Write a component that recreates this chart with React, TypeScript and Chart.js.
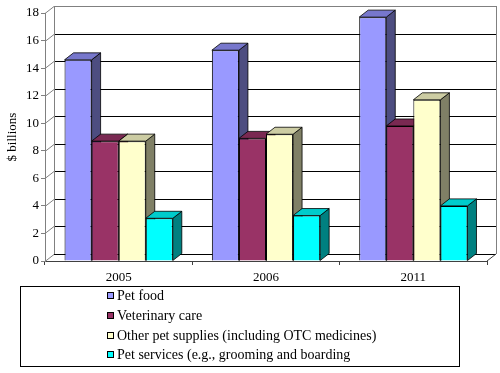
import React, { useEffect, useRef } from 'react';
import { Chart, registerables } from 'chart.js';

Chart.register(...registerables);

const categories = ['2005', '2006', '2011'];
const petFood = [14.6, 15.3, 17.7];
const vetCare = [8.7, 8.9, 9.8];
const petSupplies = [8.7, 9.2, 11.7];
const petServices = [3.1, 3.3, 4.0];
const seriesLabels = [
  'Pet food',
  'Veterinary care',
  'Other pet supplies (including OTC medicines)',
  'Pet services (e.g., grooming and boarding',
];
const yTickValues = [0, 2, 4, 6, 8, 10, 12, 14, 16, 18];

const FRONT = ['#9999FF', '#993366', '#FFFFCC', '#00FFFF'];
const TOP = ['#7777CC', '#7A2952', '#CCCCA3', '#00CCCC'];
const SIDE = ['#4D4D80', '#4D1A33', '#808066', '#008080'];
const DX = 9;
const DY = 7;
const FONT = "'Liberation Serif', 'Times New Roman', serif";

const threeD = {
  id: 'threeD',
  beforeDatasetsDraw(chart: any) {
    const ctx = chart.ctx;
    const { left: L, right: R, top: T, bottom: B } = chart.chartArea;
    const ys = chart.scales.y;
    ctx.save();
    ctx.lineWidth = 1;
    ctx.fillStyle = '#FFFFFF';
    ctx.fillRect(L + DX, T - DY, R - L, B - T);
    yTickValues.forEach((v) => {
      const y = Math.round(ys.getPixelForValue(v)) + 0.5;
      ctx.strokeStyle = v === 18 ? '#808080' : '#000000';
      ctx.beginPath();
      ctx.moveTo(L + DX, y - DY);
      ctx.lineTo(R + DX, y - DY);
      ctx.stroke();
      ctx.strokeStyle = '#808080';
      ctx.beginPath();
      ctx.moveTo(L, y);
      ctx.lineTo(L + DX, y - DY);
      ctx.stroke();
    });
    ctx.strokeStyle = '#808080';
    ctx.beginPath();
    ctx.moveTo(Math.round(L + DX) + 0.5, T - DY);
    ctx.lineTo(Math.round(L + DX) + 0.5, B - DY);
    ctx.moveTo(Math.round(R + DX) + 0.5, T - DY);
    ctx.lineTo(Math.round(R + DX) + 0.5, B - DY);
    ctx.stroke();
    ctx.strokeStyle = '#404040';
    ctx.beginPath();
    ctx.moveTo(R, B);
    ctx.lineTo(R + DX, B - DY);
    ctx.stroke();

    for (let i = 0; i < categories.length; i++) {
      chart.data.datasets.forEach((_ds: any, d: number) => {
        const meta = chart.getDatasetMeta(d);
        const el = meta.data[i];
        if (!el) return;
        const { x, y, base, width } = el.getProps(['x', 'y', 'base', 'width'], true);
        const l = x - width / 2;
        const r = x + width / 2;
        ctx.strokeStyle = '#000000';
        ctx.lineWidth = 0.8;
        ctx.fillStyle = SIDE[d];
        ctx.beginPath();
        ctx.moveTo(r, y);
        ctx.lineTo(r + DX, y - DY);
        ctx.lineTo(r + DX, base - DY);
        ctx.lineTo(r, base);
        ctx.closePath();
        ctx.fill();
        ctx.stroke();
        ctx.fillStyle = TOP[d];
        ctx.beginPath();
        ctx.moveTo(l, y);
        ctx.lineTo(l + DX, y - DY);
        ctx.lineTo(r + DX, y - DY);
        ctx.lineTo(r, y);
        ctx.closePath();
        ctx.fill();
        ctx.stroke();
      });
    }
    ctx.restore();
  },
};

const boxLegend = {
  id: 'boxLegend',
  afterDraw(chart: any) {
    const ctx = chart.ctx;
    ctx.save();
    ctx.lineWidth = 1;
    ctx.strokeStyle = '#000000';
    ctx.strokeRect(20.5, 286.5, 439, 80);
    const rows = [296, 316, 336, 355];
    ctx.font = `14px ${FONT}`;
    ctx.textBaseline = 'middle';
    ctx.textAlign = 'left';
    chart.data.datasets.forEach((ds: any, d: number) => {
      const cy = rows[d];
      ctx.fillStyle = FRONT[d];
      ctx.fillRect(107, cy - 4, 7, 7);
      ctx.strokeStyle = '#000000';
      ctx.strokeRect(107.5, cy - 3.5, 6, 6);
      ctx.fillStyle = '#000000';
      ctx.fillText(ds.label, 117, cy + 0.5);
    });
    ctx.restore();
  },
};

export default function App() {
  const ref = useRef<HTMLCanvasElement>(null);
  useEffect(() => {
    if (!ref.current) return;
    const series = [petFood, vetCare, petSupplies, petServices];
    const chart = new Chart(ref.current, {
      type: 'bar',
      data: {
        labels: categories,
        datasets: series.map((data, d) => ({
          label: seriesLabels[d],
          data,
          backgroundColor: FRONT[d],
          borderColor: '#000000',
          borderWidth: 1,
          categoryPercentage: 0.735,
          barPercentage: 1.0,
        })),
      },
      options: {
        responsive: false,
        animation: false,
        devicePixelRatio: 1,
        layout: { padding: { top: 13, right: 13, left: 0, bottom: 88 } },
        plugins: {
          legend: { display: false },
          tooltip: { enabled: false },
        },
        scales: {
          x: {
            grid: {
              display: true,
              drawOnChartArea: false,
              drawTicks: true,
              tickLength: 4,
              color: '#404040',
              offset: true,
            },
            border: { display: true, color: '#404040' },
            ticks: { font: { family: FONT, size: 13 }, color: '#000000', padding: 5 },
            afterFit: (scale: any) => {
              scale.height = 24;
            },
          },
          y: {
            min: 0,
            max: 18,
            afterBuildTicks: (scale: any) => {
              scale.ticks = yTickValues.map((v) => ({ value: v }));
            },
            grid: {
              display: true,
              drawOnChartArea: false,
              drawTicks: true,
              tickLength: 4,
              color: '#808080',
            },
            border: { display: true, color: '#808080' },
            ticks: { font: { family: FONT, size: 13 }, color: '#000000', padding: 2 },
            title: {
              display: true,
              text: '$ billions',
              font: { family: FONT, size: 13 },
              color: '#000000',
              padding: { top: 5, bottom: 0 },
            },
            afterFit: (scale: any) => {
              scale.width = 45;
            },
          },
        },
      },
      plugins: [threeD, boxLegend],
    });
    return () => chart.destroy();
  }, []);
  return (
    <div style={{ position: 'absolute', left: 0, top: 0, width: 500, height: 373, background: '#fff' }}>
      <canvas ref={ref} width={500} height={373} style={{ width: 500, height: 373 }} />
    </div>
  );
}
